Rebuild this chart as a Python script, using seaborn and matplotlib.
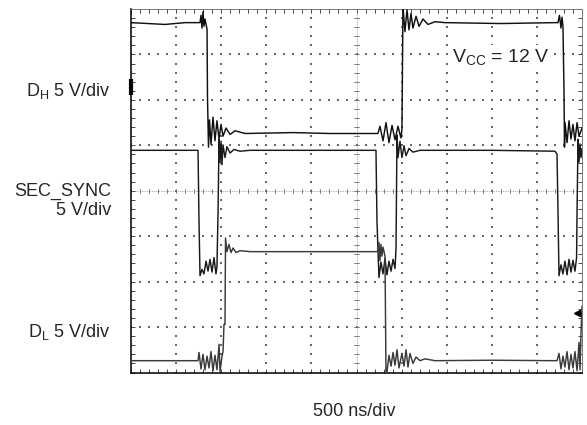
import numpy as np
import pandas as pd
import matplotlib
matplotlib.use("Agg")
import matplotlib.pyplot as plt
import seaborn as sns
from matplotlib.ticker import MultipleLocator

# ---------------- data (time in ns, voltage in V) ----------------
DH_T = [0, 377, 600, 765, 776, 787, 798, 809, 820, 832, 843, 848, 859, 870, 887, 909, 931, 953,
        976, 998, 1020, 1053, 1098, 1153, 1264, 1800, 2200, 2738, 2760, 2794, 2827, 2860, 2894,
        2927, 2960, 2993, 3004, 3015, 3037, 3060, 3082, 3104, 3126, 3160, 3193, 3237, 3293, 3370,
        3481, 4100, 4700, 4734, 4750, 4767, 4778, 4789, 4800, 4806, 4812, 4834, 4856, 4878, 4900,
        4922, 4945, 4967, 5000]
DH_V = [12.2, 12.0, 12.2, 12.2, 13.0, 11.6, 13.4, 11.8, 12.6, 12.0, 11.5, 4.0, -1.5, 1.5, -1.2,
        1.8, -0.8, 1.4, -0.6, 1.0, -0.3, 0.6, -0.1, 0.3, 0.0, 0.1, 0.0, 0.0, 0.8, -0.8, 1.2, -1.0,
        0.9, -0.7, 0.8, -0.5, 0.5, 14.0, 11.2, 13.6, 11.4, 13.2, 11.6, 12.9, 11.8, 12.6, 12.0, 12.3,
        12.2, 12.1, 12.2, 12.2, 13.0, 11.6, 12.8, 11.8, 5.0, -1.5, 1.2, -1.0, 1.4, -0.6, 1.0, -0.8,
        1.2, -0.3, 0.6]

SS_T = [0, 500, 743, 754, 765, 787, 809, 832, 854, 876, 898, 920, 942, 953, 965, 976, 987, 998,
        1009, 1020, 1042, 1064, 1098, 1142, 1208, 1319, 2000, 2716, 2727, 2749, 2771, 2794, 2816,
        2838, 2860, 2883, 2905, 2927, 2938, 2949, 2960, 2982, 3004, 3027, 3049, 3082, 3126, 3204,
        4000, 4700, 4723, 4734, 4745, 4767, 4789, 4811, 4834, 4856, 4878, 4900, 4922, 4940, 4945,
        4956, 4967, 4978, 4989, 5000]
SS_V = [12.8, 12.8, 12.8, 5.0, -1.0, -0.3, -0.8, 0.6, -0.5, 0.8, -0.6, 1.0, -0.8, 0.0, 6.0, 14.0,
        11.5, 13.8, 11.2, 13.4, 12.0, 13.2, 12.5, 12.9, 12.7, 12.8, 12.8, 12.8, 5.0, -1.2, 0.5,
        -0.8, 0.9, -0.9, 0.6, -0.5, 0.8, -0.2, 2.0, 14.5, 12.0, 13.8, 12.0, 13.3, 12.2, 13.0, 12.6,
        12.8, 12.8, 12.7, 12.4, 6.0, -1.0, 0.2, -0.8, 0.6, -0.9, 0.8, -0.6, 0.7, -0.5, 1.0, 6.0,
        14.0, 11.5, 13.5, 12.0, 13.0]

DL_T = [0, 500, 743, 754, 776, 798, 820, 843, 865, 887, 909, 931, 953, 976, 987, 1009, 1020, 1031,
        1042, 1048, 1064, 1086, 1109, 1131, 1164, 1208, 1319, 2000, 2738, 2749, 2760, 2771, 2782,
        2794, 2805, 2816, 2827, 2838, 2860, 2883, 2905, 2927, 2949, 2971, 3004, 3027, 3049, 3071,
        3093, 3126, 3160, 3204, 3259, 3370, 4000, 4700, 4723, 4745, 4767, 4789, 4811, 4834, 4856,
        4878, 4900, 4922, 4945, 4967, 4978, 4989, 5000]
DL_V = [0.0, 0.0, 0.0, 0.9, -0.9, 0.7, -1.0, 0.5, -0.8, 1.0, -1.1, 0.6, -1.0, 1.8, -1.2, 0.5, 1.0,
        4.0, 4.0, 13.5, 12.0, 12.8, 11.9, 12.4, 11.9, 12.1, 12.0, 12.0, 12.0, 13.0, 11.0, 12.8, 11.5,
        12.5, 12.0, 11.5, -1.5, -1.2, 0.6, -0.6, 0.9, -0.5, 1.2, -0.8, 0.8, -0.6, 1.2, -0.7, 0.8,
        -0.3, 0.4, 0.0, 0.2, 0.0, 0.05, 0.0, 0.0, 0.8, -0.9, 0.5, -0.7, 1.0, -1.0, 0.7, -0.8, 1.0,
        -1.1, 2.0, -1.0, 3.0, 6.0]

CHANNEL_LABELS = ["D$_\\mathregular{H}$ 5 V/div", "SEC_SYNC\n5 V/div", "D$_\\mathregular{L}$ 5 V/div"]
VCC_LABEL = "V$_\\mathregular{CC}$ = 12 V"
TIME_LABEL = "500 ns/div"

# ---------------- style / layout ----------------
VOLTS_PER_DIV = 5.0
NS_PER_DIV = 500.0
OFFSETS = [5.26, 2.33, 0.26]          # channel ground levels (divisions)
COLORS = ["#111111", "#1a1a1a", "#3a3a3a"]

sns.set_theme(style="white")
plt.rcParams["font.family"] = ["Liberation Sans", "DejaVu Sans"]
plt.rcParams["mathtext.fontset"] = "custom"
plt.rcParams["mathtext.rm"] = "Liberation Sans"

W, H = 587, 425
fig = plt.figure(figsize=(W / 100, H / 100), dpi=100)
x0, x1, y0, y1 = 131, 582, 9, 372.5
ax = fig.add_axes([x0 / W, 1 - y1 / H, (x1 - x0) / W, (y1 - y0) / H])
ax.set_xlim(0, 10 * NS_PER_DIV)
ax.set_ylim(0, 8)

# grid dots
gcol = "#6a6a6a"
minor_x = np.arange(0, 10 * NS_PER_DIV + 1, NS_PER_DIV / 5)
minor_y = np.arange(0, 8.001, 0.2)
pts = []
for k in range(1, 10):
    if k == 5:
        continue
    for yy in minor_y:
        pts.append((k * NS_PER_DIV, yy))
for k in range(1, 8):
    if k == 4:
        continue
    for xx in minor_x:
        pts.append((xx, k))
pts = np.array(pts)
ax.scatter(pts[:, 0], pts[:, 1], s=0.55, marker="s", color=gcol, linewidths=0, zorder=1)

# centre cross lines with ticks
ax.axhline(4, color=gcol, lw=0.5, ls=(0, (1, 1.5)), zorder=1)
ax.axvline(5 * NS_PER_DIV, color=gcol, lw=0.5, ls=(0, (1, 1.5)), zorder=1)
tx = 0.045 * NS_PER_DIV
ty = 0.045
for xx in minor_x:
    ax.plot([xx, xx], [4 - ty, 4 + ty], color=gcol, lw=0.6, zorder=1)
for yy in minor_y:
    ax.plot([5 * NS_PER_DIV - tx, 5 * NS_PER_DIV + tx], [yy, yy], color=gcol, lw=0.6, zorder=1)

# traces
for t, v, off, c in [(DH_T, DH_V, OFFSETS[0], COLORS[0]),
                     (SS_T, SS_V, OFFSETS[1], COLORS[1]),
                     (DL_T, DL_V, OFFSETS[2], COLORS[2])]:
    df = pd.DataFrame({"t": t, "y": off + np.array(v) / VOLTS_PER_DIV})
    sns.lineplot(data=df, x="t", y="y", ax=ax, color=c, lw=1.05, estimator=None,
                 sort=False, zorder=3)

# frame and ticks
ax.set_xlabel("")
ax.set_ylabel("")
for side in ["left", "bottom"]:
    ax.spines[side].set_color("#111111")
    ax.spines[side].set_linewidth(1.2)
for side in ["top", "right"]:
    ax.spines[side].set_color("#777777")
    ax.spines[side].set_linewidth(0.7)
ax.xaxis.set_major_locator(MultipleLocator(NS_PER_DIV))
ax.xaxis.set_minor_locator(MultipleLocator(NS_PER_DIV / 5))
ax.yaxis.set_major_locator(MultipleLocator(1))
ax.yaxis.set_minor_locator(MultipleLocator(0.2))
ax.tick_params(which="both", direction="in", top=True, right=True, bottom=True, left=True,
               length=3, width=0.7, color="#444444", labelbottom=False, labelleft=False)

# channel marker and trigger marker
ax.plot([0], [6.28], marker="|", markersize=11, markeredgewidth=3, color="black",
        clip_on=False, zorder=4)
ax.plot([9.88 * NS_PER_DIV], [1.31], marker="<", markersize=5, color="black", zorder=4)
ax.plot([9.88 * NS_PER_DIV, 9.97 * NS_PER_DIV], [1.31, 1.31], color="black", lw=1, zorder=4)

# text
fs = 13
fig.text(111 / W, 1 - 91 / H, CHANNEL_LABELS[0], ha="right", va="center", fontsize=fs)
fig.text(111 / W, 1 - 201 / H, CHANNEL_LABELS[1], ha="right", va="center", fontsize=fs,
         multialignment="right", linespacing=1.2)
fig.text(111 / W, 1 - 332 / H, CHANNEL_LABELS[2], ha="right", va="center", fontsize=fs)
ax.text(7.12 * NS_PER_DIV, 6.93, VCC_LABEL, ha="left", va="center", fontsize=14, zorder=5,
        bbox=dict(facecolor="white", edgecolor="none", pad=1.5))
fig.text(354 / W, 1 - 412 / H, TIME_LABEL, ha="center", va="center", fontsize=fs)

fig.savefig("out.png", dpi=100)
